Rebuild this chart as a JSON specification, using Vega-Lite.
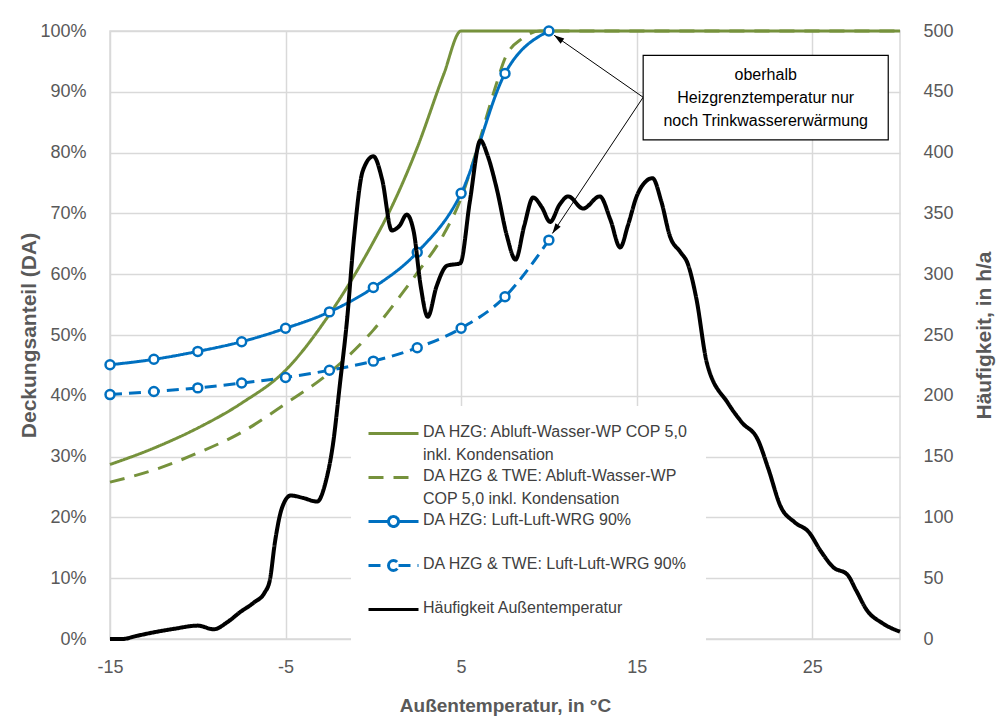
{
  "$schema": "https://vega.github.io/schema/vega-lite/v6.1.0.json",
  "description": "Deckungsanteil und Häufigkeit der Außentemperatur",
  "width": 790,
  "height": 608,
  "autosize": {"type": "none"},
  "padding": {"left": 110, "top": 31, "right": 100, "bottom": 87},
  "background": "white",
  "datasets": {
    "curves": [
      {"series": "DA HZG: Abluft-Wasser-WP COP 5,0 inkl. Kondensation", "temp": -15, "value": 28.7},
      {"series": "DA HZG: Abluft-Wasser-WP COP 5,0 inkl. Kondensation", "temp": -12.5, "value": 31.4},
      {"series": "DA HZG: Abluft-Wasser-WP COP 5,0 inkl. Kondensation", "temp": -10, "value": 34.7},
      {"series": "DA HZG: Abluft-Wasser-WP COP 5,0 inkl. Kondensation", "temp": -7.5, "value": 38.8},
      {"series": "DA HZG: Abluft-Wasser-WP COP 5,0 inkl. Kondensation", "temp": -5, "value": 44.2},
      {"series": "DA HZG: Abluft-Wasser-WP COP 5,0 inkl. Kondensation", "temp": -2.5, "value": 53.4},
      {"series": "DA HZG: Abluft-Wasser-WP COP 5,0 inkl. Kondensation", "temp": 0, "value": 65.3},
      {"series": "DA HZG: Abluft-Wasser-WP COP 5,0 inkl. Kondensation", "temp": 1, "value": 70.8},
      {"series": "DA HZG: Abluft-Wasser-WP COP 5,0 inkl. Kondensation", "temp": 2.5, "value": 80.8},
      {"series": "DA HZG: Abluft-Wasser-WP COP 5,0 inkl. Kondensation", "temp": 4, "value": 92.8},
      {"series": "DA HZG: Abluft-Wasser-WP COP 5,0 inkl. Kondensation", "temp": 5, "value": 100},
      {"series": "DA HZG: Abluft-Wasser-WP COP 5,0 inkl. Kondensation", "temp": 10, "value": 100},
      {"series": "DA HZG: Abluft-Wasser-WP COP 5,0 inkl. Kondensation", "temp": 30, "value": 100},

      {"series": "DA HZG & TWE: Abluft-Wasser-WP COP 5,0 inkl. Kondensation", "temp": -15, "value": 25.8},
      {"series": "DA HZG & TWE: Abluft-Wasser-WP COP 5,0 inkl. Kondensation", "temp": -12.5, "value": 27.8},
      {"series": "DA HZG & TWE: Abluft-Wasser-WP COP 5,0 inkl. Kondensation", "temp": -10, "value": 30.6},
      {"series": "DA HZG & TWE: Abluft-Wasser-WP COP 5,0 inkl. Kondensation", "temp": -7.5, "value": 34.0},
      {"series": "DA HZG & TWE: Abluft-Wasser-WP COP 5,0 inkl. Kondensation", "temp": -5, "value": 38.7},
      {"series": "DA HZG & TWE: Abluft-Wasser-WP COP 5,0 inkl. Kondensation", "temp": -2.5, "value": 43.8},
      {"series": "DA HZG & TWE: Abluft-Wasser-WP COP 5,0 inkl. Kondensation", "temp": 0, "value": 50.8},
      {"series": "DA HZG & TWE: Abluft-Wasser-WP COP 5,0 inkl. Kondensation", "temp": 1.5, "value": 56.3},
      {"series": "DA HZG & TWE: Abluft-Wasser-WP COP 5,0 inkl. Kondensation", "temp": 2.5, "value": 60.2},
      {"series": "DA HZG & TWE: Abluft-Wasser-WP COP 5,0 inkl. Kondensation", "temp": 4, "value": 66.5},
      {"series": "DA HZG & TWE: Abluft-Wasser-WP COP 5,0 inkl. Kondensation", "temp": 5, "value": 72.5},
      {"series": "DA HZG & TWE: Abluft-Wasser-WP COP 5,0 inkl. Kondensation", "temp": 6, "value": 81.5},
      {"series": "DA HZG & TWE: Abluft-Wasser-WP COP 5,0 inkl. Kondensation", "temp": 7, "value": 91.2},
      {"series": "DA HZG & TWE: Abluft-Wasser-WP COP 5,0 inkl. Kondensation", "temp": 7.5, "value": 95.5},
      {"series": "DA HZG & TWE: Abluft-Wasser-WP COP 5,0 inkl. Kondensation", "temp": 8.5, "value": 98.8},
      {"series": "DA HZG & TWE: Abluft-Wasser-WP COP 5,0 inkl. Kondensation", "temp": 9.5, "value": 100},
      {"series": "DA HZG & TWE: Abluft-Wasser-WP COP 5,0 inkl. Kondensation", "temp": 30, "value": 100},

      {"series": "DA HZG: Luft-Luft-WRG 90%", "temp": -15, "value": 45.1},
      {"series": "DA HZG: Luft-Luft-WRG 90%", "temp": -12.5, "value": 46.0},
      {"series": "DA HZG: Luft-Luft-WRG 90%", "temp": -10, "value": 47.3},
      {"series": "DA HZG: Luft-Luft-WRG 90%", "temp": -7.5, "value": 48.9},
      {"series": "DA HZG: Luft-Luft-WRG 90%", "temp": -5, "value": 51.1},
      {"series": "DA HZG: Luft-Luft-WRG 90%", "temp": -2.5, "value": 53.8},
      {"series": "DA HZG: Luft-Luft-WRG 90%", "temp": 0, "value": 57.8},
      {"series": "DA HZG: Luft-Luft-WRG 90%", "temp": 2.5, "value": 63.6},
      {"series": "DA HZG: Luft-Luft-WRG 90%", "temp": 5, "value": 73.3},
      {"series": "DA HZG: Luft-Luft-WRG 90%", "temp": 7.5, "value": 93.0},
      {"series": "DA HZG: Luft-Luft-WRG 90%", "temp": 10, "value": 100},

      {"series": "DA HZG & TWE: Luft-Luft-WRG 90%", "temp": -15, "value": 40.2},
      {"series": "DA HZG & TWE: Luft-Luft-WRG 90%", "temp": -12.5, "value": 40.7},
      {"series": "DA HZG & TWE: Luft-Luft-WRG 90%", "temp": -10, "value": 41.3},
      {"series": "DA HZG & TWE: Luft-Luft-WRG 90%", "temp": -7.5, "value": 42.1},
      {"series": "DA HZG & TWE: Luft-Luft-WRG 90%", "temp": -5, "value": 43.0},
      {"series": "DA HZG & TWE: Luft-Luft-WRG 90%", "temp": -2.5, "value": 44.2},
      {"series": "DA HZG & TWE: Luft-Luft-WRG 90%", "temp": 0, "value": 45.7},
      {"series": "DA HZG & TWE: Luft-Luft-WRG 90%", "temp": 2.5, "value": 47.9},
      {"series": "DA HZG & TWE: Luft-Luft-WRG 90%", "temp": 5, "value": 51.1},
      {"series": "DA HZG & TWE: Luft-Luft-WRG 90%", "temp": 7.5, "value": 56.3},
      {"series": "DA HZG & TWE: Luft-Luft-WRG 90%", "temp": 10, "value": 65.6}
    ],
    "hours": [
      {"series": "Häufigkeit Außentemperatur", "temp": -15, "value": 0},
      {"series": "Häufigkeit Außentemperatur", "temp": -14.3, "value": 0},
      {"series": "Häufigkeit Außentemperatur", "temp": -13.5, "value": 2.5},
      {"series": "Häufigkeit Außentemperatur", "temp": -12.5, "value": 5.5},
      {"series": "Häufigkeit Außentemperatur", "temp": -11.3, "value": 8.5},
      {"series": "Häufigkeit Außentemperatur", "temp": -10, "value": 11},
      {"series": "Häufigkeit Außentemperatur", "temp": -9.1, "value": 8},
      {"series": "Häufigkeit Außentemperatur", "temp": -8.3, "value": 14},
      {"series": "Häufigkeit Außentemperatur", "temp": -7.6, "value": 22},
      {"series": "Häufigkeit Außentemperatur", "temp": -6.8, "value": 30},
      {"series": "Häufigkeit Außentemperatur", "temp": -6.2, "value": 38},
      {"series": "Häufigkeit Außentemperatur", "temp": -5.9, "value": 48},
      {"series": "Häufigkeit Außentemperatur", "temp": -5.6, "value": 80},
      {"series": "Häufigkeit Außentemperatur", "temp": -5.2, "value": 108},
      {"series": "Häufigkeit Außentemperatur", "temp": -4.7, "value": 118},
      {"series": "Häufigkeit Außentemperatur", "temp": -4, "value": 116},
      {"series": "Häufigkeit Außentemperatur", "temp": -3.2, "value": 113},
      {"series": "Häufigkeit Außentemperatur", "temp": -2.7, "value": 130},
      {"series": "Häufigkeit Außentemperatur", "temp": -2.3, "value": 160},
      {"series": "Häufigkeit Außentemperatur", "temp": -1.9, "value": 210},
      {"series": "Häufigkeit Außentemperatur", "temp": -1.5, "value": 262},
      {"series": "Häufigkeit Außentemperatur", "temp": -1.1, "value": 330},
      {"series": "Häufigkeit Außentemperatur", "temp": -0.6, "value": 385},
      {"series": "Häufigkeit Außentemperatur", "temp": 0, "value": 397},
      {"series": "Häufigkeit Außentemperatur", "temp": 0.5, "value": 378},
      {"series": "Häufigkeit Außentemperatur", "temp": 1.05, "value": 336},
      {"series": "Häufigkeit Außentemperatur", "temp": 1.5, "value": 340},
      {"series": "Häufigkeit Außentemperatur", "temp": 1.9, "value": 349},
      {"series": "Häufigkeit Außentemperatur", "temp": 2.3, "value": 335},
      {"series": "Häufigkeit Außentemperatur", "temp": 2.7, "value": 290},
      {"series": "Häufigkeit Außentemperatur", "temp": 3.1, "value": 265},
      {"series": "Häufigkeit Außentemperatur", "temp": 3.6, "value": 290},
      {"series": "Häufigkeit Außentemperatur", "temp": 4.2, "value": 307},
      {"series": "Häufigkeit Außentemperatur", "temp": 4.95, "value": 309},
      {"series": "Häufigkeit Außentemperatur", "temp": 5.5, "value": 360},
      {"series": "Häufigkeit Außentemperatur", "temp": 6.1, "value": 410},
      {"series": "Häufigkeit Außentemperatur", "temp": 6.5, "value": 398},
      {"series": "Häufigkeit Außentemperatur", "temp": 7.05, "value": 369},
      {"series": "Häufigkeit Außentemperatur", "temp": 7.6, "value": 332},
      {"series": "Häufigkeit Außentemperatur", "temp": 8.1, "value": 312},
      {"series": "Häufigkeit Außentemperatur", "temp": 8.6, "value": 340},
      {"series": "Häufigkeit Außentemperatur", "temp": 9.1, "value": 363},
      {"series": "Häufigkeit Außentemperatur", "temp": 9.6, "value": 355},
      {"series": "Häufigkeit Außentemperatur", "temp": 10.07, "value": 343},
      {"series": "Häufigkeit Außentemperatur", "temp": 10.6, "value": 357},
      {"series": "Häufigkeit Außentemperatur", "temp": 11.1, "value": 364},
      {"series": "Häufigkeit Außentemperatur", "temp": 11.95, "value": 354},
      {"series": "Häufigkeit Außentemperatur", "temp": 12.9, "value": 364},
      {"series": "Häufigkeit Außentemperatur", "temp": 13.5, "value": 345},
      {"series": "Häufigkeit Außentemperatur", "temp": 14.06, "value": 322},
      {"series": "Häufigkeit Außentemperatur", "temp": 14.5, "value": 340},
      {"series": "Häufigkeit Außentemperatur", "temp": 15, "value": 364},
      {"series": "Häufigkeit Außentemperatur", "temp": 15.5, "value": 376},
      {"series": "Häufigkeit Außentemperatur", "temp": 15.9, "value": 379},
      {"series": "Häufigkeit Außentemperatur", "temp": 16.4, "value": 360},
      {"series": "Häufigkeit Außentemperatur", "temp": 16.9, "value": 331},
      {"series": "Häufigkeit Außentemperatur", "temp": 17.5, "value": 318},
      {"series": "Häufigkeit Außentemperatur", "temp": 17.9, "value": 309},
      {"series": "Häufigkeit Außentemperatur", "temp": 18.4, "value": 280},
      {"series": "Häufigkeit Außentemperatur", "temp": 19, "value": 227},
      {"series": "Häufigkeit Außentemperatur", "temp": 20.2, "value": 194},
      {"series": "Häufigkeit Außentemperatur", "temp": 21, "value": 178},
      {"series": "Häufigkeit Außentemperatur", "temp": 21.9, "value": 164},
      {"series": "Häufigkeit Außentemperatur", "temp": 22.5, "value": 140},
      {"series": "Häufigkeit Außentemperatur", "temp": 23.2, "value": 109},
      {"series": "Häufigkeit Außentemperatur", "temp": 24, "value": 96},
      {"series": "Häufigkeit Außentemperatur", "temp": 24.8, "value": 88},
      {"series": "Häufigkeit Außentemperatur", "temp": 25.5, "value": 72},
      {"series": "Häufigkeit Außentemperatur", "temp": 26.2, "value": 59},
      {"series": "Häufigkeit Außentemperatur", "temp": 27, "value": 53},
      {"series": "Häufigkeit Außentemperatur", "temp": 27.5, "value": 40},
      {"series": "Häufigkeit Außentemperatur", "temp": 28.1, "value": 24},
      {"series": "Häufigkeit Außentemperatur", "temp": 29, "value": 13},
      {"series": "Häufigkeit Außentemperatur", "temp": 30, "value": 6}
    ],
    "note": [
      {"t1": 15.37, "t2": 29.33, "v1": 82.1, "v2": 96.0, "tc": 22.35, "vc": 92.8, "label": "oberhalb\nHeizgrenztemperatur nur\nnoch Trinkwassererwärmung"}
    ],
    "arrows": [
      {"arrow": "top", "from_t": 15.37, "from_v": 89.1, "to_t": 10.3, "to_v": 99.3},
      {"arrow": "bottom", "from_t": 15.37, "from_v": 89.1, "to_t": 10.2, "to_v": 66.7}
    ]
  },
  "layer": [
    {
      "layer": [
        {
          "data": {"name": "curves"},
          "mark": {"type": "line", "interpolate": "monotone", "strokeWidth": 3},
          "encoding": {
            "x": {
              "field": "temp", "type": "quantitative",
              "scale": {"domain": [-15, 30], "nice": false, "zero": false},
              "axis": {
                "title": "Außentemperatur, in °C",
                "values": [-15, -5, 5, 15, 25],
                "labelExpr": "'' + datum.value",
                "labelFlush": false,
                "labelPadding": 19,
                "titlePadding": 20
              }
            },
            "y": {
              "field": "value", "type": "quantitative",
              "scale": {"domain": [0, 100], "nice": false},
              "axis": {
                "title": "Deckungsanteil (DA)",
                "orient": "left",
                "values": [0, 10, 20, 30, 40, 50, 60, 70, 80, 90, 100],
                "labelExpr": "datum.value + '%'",
                "labelPadding": 24,
                "titlePadding": 0,
                "titleFontSize": 21
              }
            },
            "color": {
              "field": "series", "type": "nominal",
              "scale": {
                "domain": [
                  "DA HZG: Abluft-Wasser-WP COP 5,0 inkl. Kondensation",
                  "DA HZG & TWE: Abluft-Wasser-WP COP 5,0 inkl. Kondensation",
                  "DA HZG: Luft-Luft-WRG 90%",
                  "DA HZG & TWE: Luft-Luft-WRG 90%",
                  "Häufigkeit Außentemperatur"
                ],
                "range": ["#76923C", "#76923C", "#0070C0", "#0070C0", "#000000"]
              },
              "legend": {
                "title": null,
                "orient": "none",
                "legendX": 241,
                "legendY": 375,
                "padding": 16,
                "fillColor": "white",
                "symbolSize": 400,
                "symbolStrokeWidth": 3,
                "labelFontSize": 16,
                "labelColor": "#404040",
                "labelLimit": 400,
                "labelOffset": 33,
                "labelBaseline": "top",
                "rowPadding": 3,
                "labelExpr": "datum.label == 'DA HZG: Abluft-Wasser-WP COP 5,0 inkl. Kondensation' ? ['DA HZG: Abluft-Wasser-WP COP 5,0', 'inkl. Kondensation'] : datum.label == 'DA HZG & TWE: Abluft-Wasser-WP COP 5,0 inkl. Kondensation' ? ['DA HZG & TWE: Abluft-Wasser-WP', 'COP 5,0 inkl. Kondensation'] : [datum.label, ' ']",
                "encode": {
                  "symbols": {
                    "update": {
                      "shape": {"signal": "indexof(datum.value, 'Luft-Luft') >= 0 ? 'M-1,0H1M2,0H4M1,0A0.5,0.5 0 1,0 2,0A0.5,0.5 0 1,0 1,0' : 'M-1,0H4'"},
                      "fill": {"value": "white"}
                    }
                  },
                  "labels": {
                    "update": {
                      "dy": {"value": -10},
                      "lineHeight": {"value": 23}
                    }
                  }
                }
              }
            },
            "strokeDash": {
              "field": "series", "type": "nominal",
              "scale": {
                "domain": [
                  "DA HZG: Abluft-Wasser-WP COP 5,0 inkl. Kondensation",
                  "DA HZG & TWE: Abluft-Wasser-WP COP 5,0 inkl. Kondensation",
                  "DA HZG: Luft-Luft-WRG 90%",
                  "DA HZG & TWE: Luft-Luft-WRG 90%",
                  "Häufigkeit Außentemperatur"
                ],
                "range": [[1, 0], [15, 10], [1, 0], [12, 7], [1, 0]]
              },
              "legend": {
                "title": null,
                "orient": "none",
                "legendX": 241,
                "legendY": 375
              }
            }
          }
        },
        {
          "data": {"name": "curves"},
          "transform": [{"filter": "indexof(datum.series, 'Luft-Luft') >= 0"}],
          "mark": {"type": "point", "shape": "circle", "filled": false, "fill": "white", "size": 80, "strokeWidth": 2.5, "opacity": 1},
          "encoding": {
            "x": {"field": "temp", "type": "quantitative"},
            "y": {"field": "value", "type": "quantitative"},
            "color": {"field": "series", "type": "nominal", "legend": null}
          }
        },
        {
          "data": {"name": "arrows"},
          "mark": {"type": "rule", "color": "black", "strokeWidth": 1},
          "encoding": {
            "x": {"field": "from_t", "type": "quantitative"},
            "y": {"field": "from_v", "type": "quantitative"},
            "x2": {"field": "to_t"},
            "y2": {"field": "to_v"}
          }
        },
        {
          "data": {"name": "arrows"},
          "transform": [{"filter": "datum.arrow == 'top'"}],
          "mark": {"type": "point", "shape": "M0,0L-0.5,1.6L0.5,1.6Z", "filled": true, "color": "black", "size": 160, "angle": 305, "opacity": 1},
          "encoding": {
            "x": {"field": "to_t", "type": "quantitative"},
            "y": {"field": "to_v", "type": "quantitative"}
          }
        },
        {
          "data": {"name": "arrows"},
          "transform": [{"filter": "datum.arrow == 'bottom'"}],
          "mark": {"type": "point", "shape": "M0,0L-0.5,1.6L0.5,1.6Z", "filled": true, "color": "black", "size": 160, "angle": 214, "opacity": 1},
          "encoding": {
            "x": {"field": "to_t", "type": "quantitative"},
            "y": {"field": "to_v", "type": "quantitative"}
          }
        },
        {
          "data": {"name": "note"},
          "mark": {"type": "rect", "fill": "white", "stroke": "black", "strokeWidth": 1.2},
          "encoding": {
            "x": {"field": "t1", "type": "quantitative"},
            "x2": {"field": "t2"},
            "y": {"field": "v1", "type": "quantitative"},
            "y2": {"field": "v2"}
          }
        },
        {
          "data": {"name": "note"},
          "mark": {"type": "text", "align": "center", "baseline": "middle", "lineBreak": "\n", "lineHeight": 23, "fontSize": 16, "color": "black"},
          "encoding": {
            "x": {"field": "tc", "type": "quantitative"},
            "y": {"field": "vc", "type": "quantitative"},
            "text": {"field": "label"}
          }
        }
      ]
    },
    {
      "data": {"name": "hours"},
      "mark": {"type": "line", "interpolate": "monotone", "strokeWidth": 4},
      "encoding": {
        "x": {"field": "temp", "type": "quantitative"},
        "y": {
          "field": "value", "type": "quantitative",
          "scale": {"domain": [0, 500], "nice": false},
          "axis": {
            "title": "Häufigkeit, in h/a",
            "orient": "right",
            "values": [0, 50, 100, 150, 200, 250, 300, 350, 400, 450, 500],
            "grid": false,
            "labelPadding": 23,
            "titlePadding": 41,
            "titleAngle": 270,
            "titleFontSize": 21
          }
        },
        "color": {"field": "series", "type": "nominal"},
        "strokeDash": {"field": "series", "type": "nominal"}
      }
    }
  ],
  "resolve": {"scale": {"y": "independent"}},
  "config": {
    "font": "Liberation Sans",
    "view": {"stroke": "#d9d9d9", "strokeWidth": 1.5},
    "axis": {
      "grid": true,
      "gridColor": "#d9d9d9",
      "gridWidth": 1.5,
      "domain": false,
      "ticks": false,
      "labelFontSize": 18,
      "labelColor": "#595959",
      "labelFont": "Liberation Sans",
      "titleFont": "Liberation Sans",
      "titleFontSize": 19,
      "titleFontWeight": "bold",
      "titleColor": "#595959"
    }
  }
}
